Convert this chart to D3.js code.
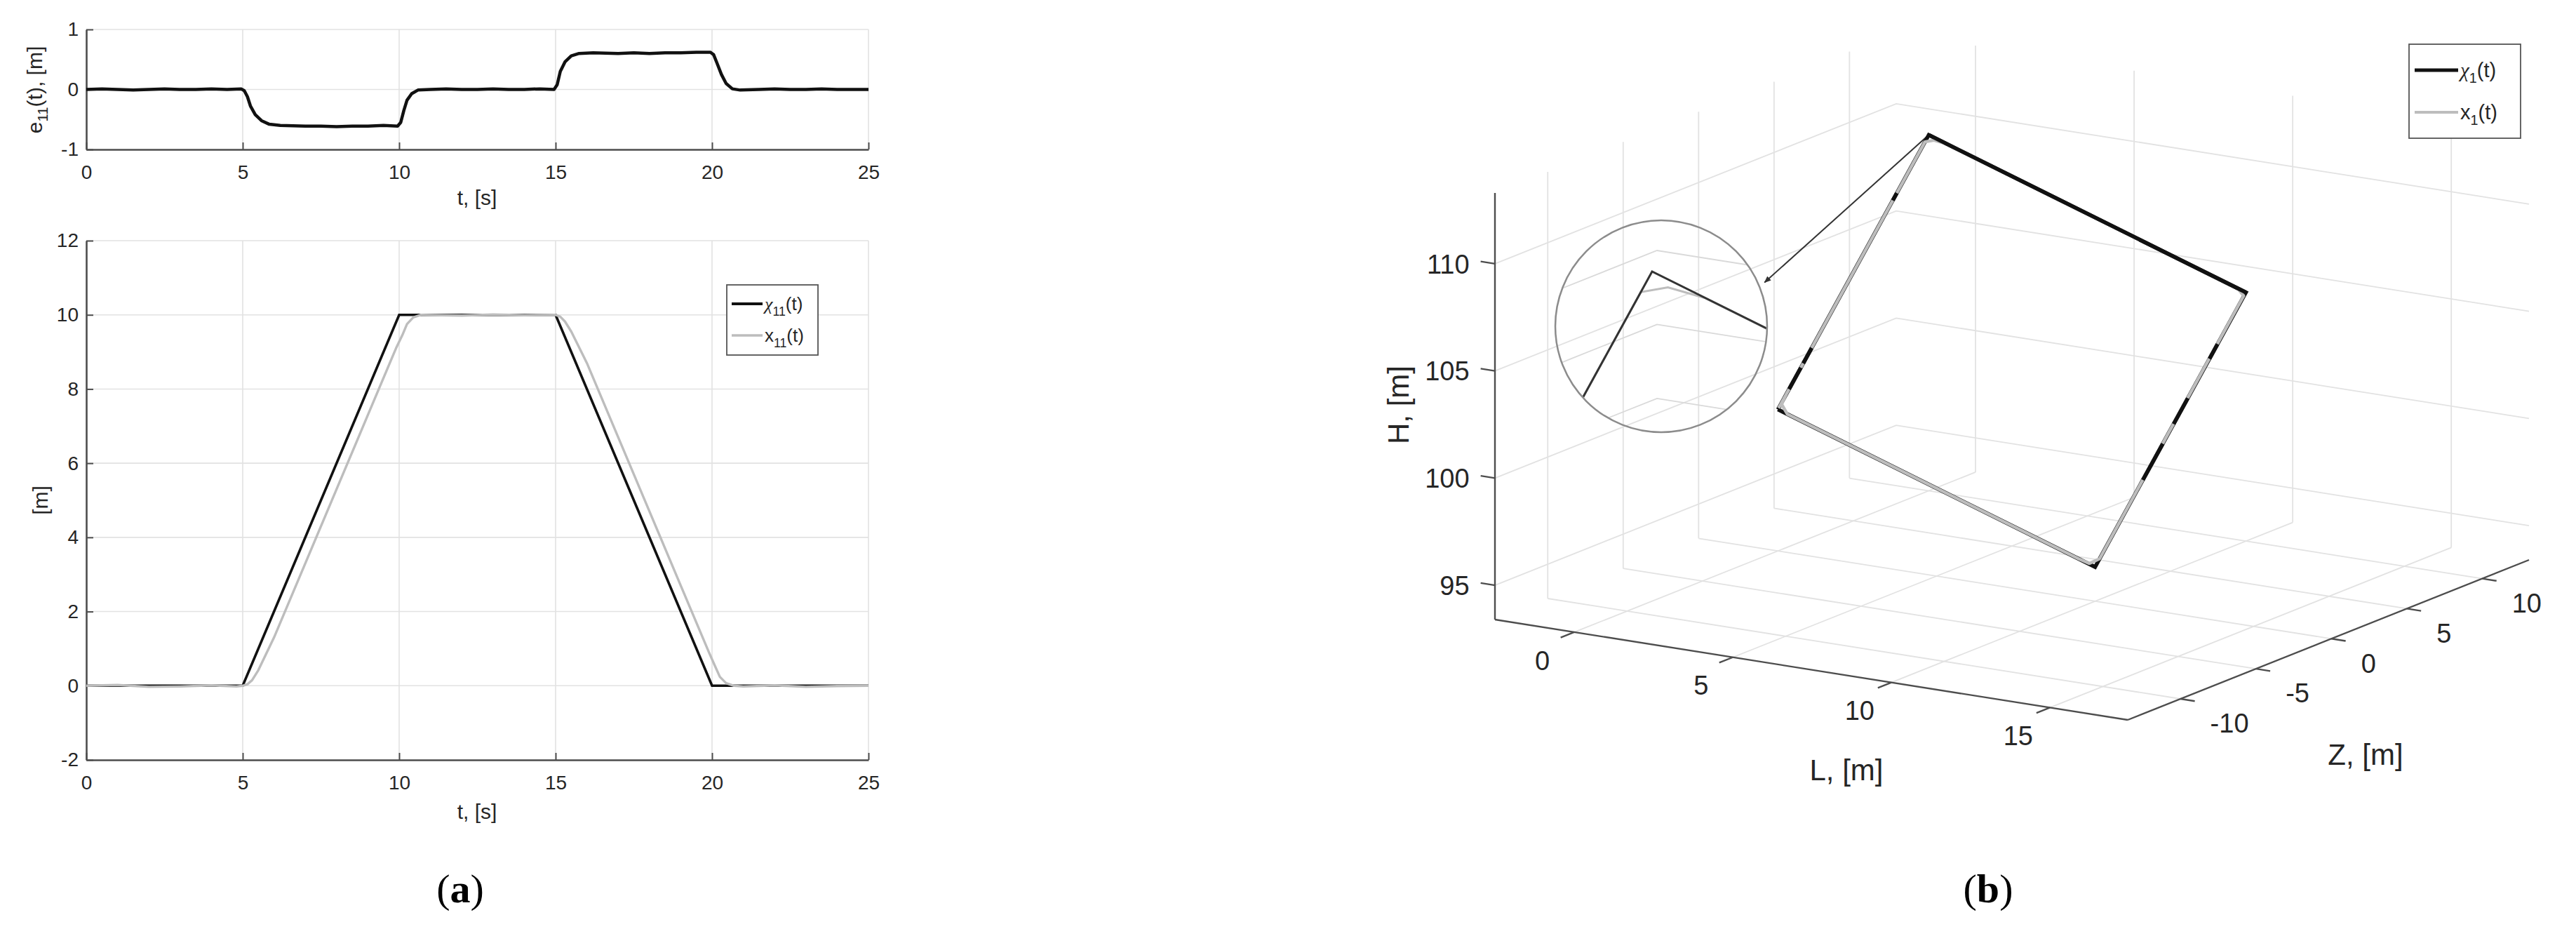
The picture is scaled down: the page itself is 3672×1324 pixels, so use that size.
<!DOCTYPE html>
<html>
<head>
<meta charset="utf-8">
<script src="https://cdn.jsdelivr.net/npm/d3@7/dist/d3.min.js"></script>
<style>
    body { margin: 0; background: #fff; }
    svg { display: block; }
</style>
</head>
<body>
<svg id="figure" width="3672" height="1324"></svg>
<script>
// ---------- panel (a) data ----------
const timeTicks = [0, 5, 10, 15, 20, 25]
const errorTicks = [-1, 0, 1]
const posTicks = [-2, 0, 2, 4, 6, 8, 10, 12]

// e11(t), tracking error
const e11 = [
    [0, 0.00], [0.5, 0.01], [1, 0.00], [1.5, -0.01], [2, 0.00], [2.5, 0.01], [3, 0.00], [3.5, 0.00], [4, 0.01], [4.5, 0.00], [4.95, 0.01],
    [5.05, -0.02], [5.15, -0.12], [5.25, -0.28], [5.4, -0.42], [5.6, -0.52], [5.85, -0.58], [6.2, -0.60], [7, -0.61], [7.5, -0.61],
    [8, -0.62], [8.5, -0.61], [9, -0.61], [9.5, -0.60], [9.95, -0.61],
    [10.05, -0.55], [10.15, -0.35], [10.25, -0.18], [10.4, -0.07], [10.6, -0.01], [11, 0.00], [11.5, 0.01], [12, 0.00], [12.5, 0.00],
    [13, 0.01], [13.5, 0.00], [14, 0.00], [14.5, 0.01], [14.95, 0.00],
    [15.05, 0.08], [15.15, 0.30], [15.3, 0.46], [15.5, 0.56], [15.75, 0.60], [16.2, 0.61], [17, 0.60], [17.5, 0.61], [18, 0.60],
    [18.5, 0.61], [19, 0.61], [19.5, 0.62], [19.95, 0.62],
    [20.05, 0.58], [20.15, 0.45], [20.3, 0.25], [20.45, 0.10], [20.65, 0.01], [20.9, -0.01], [21.5, 0.00], [22, 0.01], [22.5, 0.00],
    [23, 0.00], [23.5, 0.01], [24, 0.00], [24.5, 0.00], [25, 0.00]
]

// chi11(t), reference
const chi11 = [[0, 0], [5, 0], [10, 10], [15, 10], [20, 0], [25, 0]]

// x11(t), actual
const x11 = [
    [0, 0], [1, 0.02], [2, -0.03], [3, -0.02], [4, 0.01], [4.8, -0.02], [5, 0], [5.15, 0.04], [5.3, 0.15], [5.5, 0.42],
    [6, 1.3], [7, 3.3], [8, 5.3], [9, 7.3], [9.9, 9.1], [10.1, 9.45], [10.25, 9.75], [10.45, 9.93], [10.7, 10],
    [12, 9.98], [13, 10.01], [14, 9.99], [15, 10], [15.15, 9.95], [15.3, 9.82], [15.5, 9.55], [16, 8.7], [17, 6.7],
    [18, 4.7], [19, 2.7], [19.9, 0.9], [20.1, 0.52], [20.25, 0.24], [20.45, 0.07], [20.7, 0], [21, -0.02], [22, 0.01],
    [23, -0.03], [24, -0.01], [25, 0]
]

// ---------- panel (b) data ----------
const lTicks = [0, 5, 10, 15]
const zTicks = [-10, -5, 0, 5, 10]
const hTicks = [95, 100, 105, 110]
const lLimits = [-2.5, 17.45]
const zLimits = [-13.5, 13.1]
const hLimits = [93.4, 113.3]

// chi1(t), reference [L, Z, H]
const chi1 = [[0, 0, 100], [0, 10, 110], [10, 10, 105], [10, 0, 95], [0, 0, 100]]

// x1(t), actual [L, Z, H]
const x1 = [
    [0, 0.05, 100.05], [0, 9.75, 109.75], [0.2, 9.93, 109.82], [0.55, 10, 109.72],
    [9.75, 10, 105.12], [10, 9.85, 104.88], [10, 0.3, 95.3], [9.8, 0.05, 95.1], [9.5, 0, 95.25],
    [0.3, 0, 99.85], [0.02, 0.2, 100.2], [0, 0.6, 100.6]
]

const font = "'Liberation Sans', Arial, sans-serif"
const serif = "'Liberation Serif', 'Times New Roman', serif"
const gridColor = '#e2e2e2'
const axisColor = '#4d4d4d'
const textColor = '#262626'
const grayLine = '#bdbdbd'

const svg = d3.select('#figure')
const defs = svg.append('defs')

// ================= panel (a) =================
const tx = d3.scaleLinear().domain([0, 25]).range([123, 1238])
const ey = d3.scaleLinear().domain([-1, 1]).range([213, 42])
const py = d3.scaleLinear().domain([-2, 12]).range([1083, 343])

function drawFrame(x, y, yTicks) {
    const [xa, xb] = x.range()
    const [yb, yt] = y.range()
    const g = svg.append('g')

    // grid
    g.append('g').selectAll('line')
        .data(timeTicks.slice(1))
        .join('line')
        .attr('x1', d => x(d)).attr('x2', d => x(d))
        .attr('y1', yb).attr('y2', yt)
        .attr('stroke', gridColor)
        .attr('stroke-width', 1.6)
    g.append('g').selectAll('line')
        .data(yTicks.slice(1))
        .join('line')
        .attr('x1', xa).attr('x2', xb)
        .attr('y1', d => y(d)).attr('y2', d => y(d))
        .attr('stroke', gridColor)
        .attr('stroke-width', 1.6)

    g.append('g')
        .attr('transform', `translate(${xa},0)`)
        .call(d3.axisLeft(y).tickValues(yTicks).tickFormat(d => String(d)).tickSize(-10).tickSizeOuter(0).tickPadding(11))
        .call(a => a.select('.domain').attr('stroke', axisColor).attr('stroke-width', 2.6))
        .call(a => a.selectAll('.tick line').attr('stroke', axisColor).attr('stroke-width', 2))
        .call(a => a.selectAll('.tick text').attr('fill', textColor).style('font-size', '28px').style('font-family', font))

    g.append('g')
        .attr('transform', `translate(0,${yb})`)
        .call(d3.axisBottom(x).tickValues(timeTicks).tickFormat(d => String(d)).tickSize(-10).tickSizeOuter(0).tickPadding(22))
        .call(a => a.select('.domain').attr('stroke', axisColor).attr('stroke-width', 2.6))
        .call(a => a.selectAll('.tick line').attr('stroke', axisColor).attr('stroke-width', 2))
        .call(a => a.selectAll('.tick text').attr('fill', textColor).style('font-size', '28px').style('font-family', font))
    return g
}

function subText(sel, parts) {
    // parts: [text, kind] kind: 'n' normal, 's' subscript, 'i' italic serif
    let shift = 0
    parts.forEach(([txt, kind]) => {
        const t = sel.append('tspan').text(txt)
        if (kind === 's') {
            t.attr('font-size', '0.68em').attr('dy', 8 - shift)
            shift = 8
        } else {
            t.attr('dy', -shift)
            shift = 0
        }
        if (kind === 'i') t.attr('font-family', serif).attr('font-style', 'italic')
    })
}

// top subplot
drawFrame(tx, ey, errorTicks)
svg.append('path')
    .datum(e11)
    .attr('d', d3.line().x(d => tx(d[0])).y(d => ey(d[1])))
    .attr('fill', 'none')
    .attr('stroke', '#111')
    .attr('stroke-width', 4.5)
    .attr('stroke-linejoin', 'round')

svg.append('text')
    .attr('x', 680).attr('y', 292)
    .attr('text-anchor', 'middle')
    .attr('fill', textColor)
    .style('font-family', font).style('font-size', '30px')
    .text('t, [s]')

const eLabel = svg.append('text')
    .attr('transform', 'translate(60,128) rotate(-90)')
    .attr('text-anchor', 'middle')
    .attr('fill', textColor)
    .style('font-family', font).style('font-size', '30px')
subText(eLabel, [['e', 'n'], ['11', 's'], ['(t), [m]', 'n']])

// bottom subplot
drawFrame(tx, py, posTicks)
svg.append('path')
    .datum(chi11)
    .attr('d', d3.line().x(d => tx(d[0])).y(d => py(d[1])))
    .attr('fill', 'none')
    .attr('stroke', '#111')
    .attr('stroke-width', 3.6)
svg.append('path')
    .datum(x11)
    .attr('d', d3.line().x(d => tx(d[0])).y(d => py(d[1])))
    .attr('fill', 'none')
    .attr('stroke', grayLine)
    .attr('stroke-width', 3.4)
    .attr('stroke-linejoin', 'round')

svg.append('text')
    .attr('x', 680).attr('y', 1167)
    .attr('text-anchor', 'middle')
    .attr('fill', textColor)
    .style('font-family', font).style('font-size', '30px')
    .text('t, [s]')

svg.append('text')
    .attr('transform', 'translate(68,713) rotate(-90)')
    .attr('text-anchor', 'middle')
    .attr('fill', textColor)
    .style('font-family', font).style('font-size', '30px')
    .text('[m]')

// legend (a)
const legA = svg.append('g').attr('transform', 'translate(1036,406)')
legA.append('rect')
    .attr('width', 130).attr('height', 100)
    .attr('fill', '#fff')
    .attr('stroke', '#555')
    .attr('stroke-width', 1.8)
const legAItems = [
    { color: '#111', width: 4, parts: [['\u03C7', 'i'], ['11', 's'], ['(t)', 'n']] },
    { color: grayLine, width: 3.4, parts: [['x', 'n'], ['11', 's'], ['(t)', 'n']] }
]
legAItems.forEach((it, i) => {
    const yy = 27 + i * 45
    legA.append('line')
        .attr('x1', 7).attr('x2', 51).attr('y1', yy).attr('y2', yy)
        .attr('stroke', it.color).attr('stroke-width', it.width)
    const t = legA.append('text')
        .attr('x', 54).attr('y', yy + 9)
        .attr('fill', textColor)
        .style('font-family', font).style('font-size', '26px')
    subText(t, it.parts)
})

// ================= panel (b) =================
const origin3d = [2131, 883]
const lVec = [902, 143], zVec = [572, -228], hVec = [0, -608]
const lFrac = d3.scaleLinear().domain(lLimits).range([0, 1])
const zFrac = d3.scaleLinear().domain(zLimits).range([0, 1])
const hFrac = d3.scaleLinear().domain(hLimits).range([0, 1])

function project(p) {
    const a = lFrac(p[0]), b = zFrac(p[1]), c = hFrac(p[2])
    return [
        origin3d[0] + a * lVec[0] + b * zVec[0] + c * hVec[0],
        origin3d[1] + a * lVec[1] + b * zVec[1] + c * hVec[1]
    ]
}
const line3d = d3.line().x(d => project(d)[0]).y(d => project(d)[1])

const [lMin, lMax] = lLimits
const [zMin, zMax] = zLimits
const [hMin, hMax] = hLimits

// grid segments on floor and two back walls
const gridSegs = []
lTicks.forEach(l => {
    gridSegs.push([[l, zMin, hMin], [l, zMax, hMin]])
    gridSegs.push([[l, zMax, hMin], [l, zMax, hMax]])
})
zTicks.forEach(z => {
    gridSegs.push([[lMin, z, hMin], [lMax, z, hMin]])
    gridSegs.push([[lMin, z, hMin], [lMin, z, hMax]])
})
hTicks.forEach(h => {
    gridSegs.push([[lMin, zMin, h], [lMin, zMax, h], [lMax, zMax, h]])
})

const gB = svg.append('g')
gB.append('g').selectAll('path')
    .data(gridSegs)
    .join('path')
    .attr('d', line3d)
    .attr('fill', 'none')
    .attr('stroke', gridColor)
    .attr('stroke-width', 1.8)

// axes
const axisSegs = [
    [[lMin, zMin, hMin], [lMin, zMin, hMax]],
    [[lMin, zMin, hMin], [lMax, zMin, hMin]],
    [[lMax, zMin, hMin], [lMax, zMax, hMin]]
]
hTicks.forEach(h => axisSegs.push([[lMin, zMin, h], [lMin - 0.45, zMin, h]]))
lTicks.forEach(l => axisSegs.push([[l, zMin, hMin], [l, zMin - 0.9, hMin]]))
zTicks.forEach(z => axisSegs.push([[lMax, z, hMin], [lMax + 0.45, z, hMin]]))

gB.append('g').selectAll('path')
    .data(axisSegs)
    .join('path')
    .attr('d', line3d)
    .attr('fill', 'none')
    .attr('stroke', axisColor)
    .attr('stroke-width', 2.4)

const tickStyle = s => s.attr('fill', textColor).style('font-family', font).style('font-size', '38px')

gB.append('g').selectAll('text')
    .data(hTicks)
    .join('text')
    .attr('x', d => project([lMin - 0.45, zMin, d])[0] - 16)
    .attr('y', d => project([lMin - 0.45, zMin, d])[1] + 4)
    .attr('text-anchor', 'end')
    .attr('dominant-baseline', 'central')
    .call(tickStyle)
    .text(d => String(d))

gB.append('g').selectAll('text')
    .data(lTicks)
    .join('text')
    .attr('x', d => project([d, zMin - 0.9, hMin])[0] - 26)
    .attr('y', d => project([d, zMin - 0.9, hMin])[1] + 33)
    .attr('text-anchor', 'middle')
    .attr('dominant-baseline', 'central')
    .call(tickStyle)
    .text(d => String(d))

gB.append('g').selectAll('text')
    .data(zTicks)
    .join('text')
    .attr('x', d => project([lMax + 0.45, d, hMin])[0] + 22)
    .attr('y', d => project([lMax + 0.45, d, hMin])[1] + 32)
    .attr('text-anchor', 'start')
    .attr('dominant-baseline', 'central')
    .call(tickStyle)
    .text(d => String(d))

const titleStyle = s => s.attr('fill', textColor).style('font-family', font).style('font-size', '42px').attr('text-anchor', 'middle')
gB.append('text').attr('x', 2632).attr('y', 1112).call(titleStyle).text('L, [m]')
gB.append('text').attr('x', 3372).attr('y', 1090).call(titleStyle).text('Z, [m]')
gB.append('text').attr('transform', 'translate(2008,577) rotate(-90)').call(titleStyle).text('H, [m]')

// magnifier inset around the top corner
const insetCenter = [2368, 465], insetR = 151
const insetAnchor = [2355, 387], insetZoom = 3
const gridAnchor = [2362, 357], gridZoom = 0.69

defs.append('clipPath').attr('id', 'insetClip')
    .append('circle')
    .attr('cx', insetCenter[0]).attr('cy', insetCenter[1]).attr('r', insetR - 1)

function insetLine(anchor, zoom, ref) {
    const r = project(ref)
    return d3.line()
        .x(d => anchor[0] + zoom * (project(d)[0] - r[0]))
        .y(d => anchor[1] + zoom * (project(d)[1] - r[1]))
}

const gInset = gB.append('g').attr('clip-path', 'url(#insetClip)')
const insetGrid = insetLine(gridAnchor, gridZoom, [lMin, zMax, 110])
gInset.append('g').selectAll('path')
    .data(hTicks.map(h => [[lMin, zMin, h], [lMin, zMax, h], [lMax, zMax, h]]))
    .join('path')
    .attr('d', insetGrid)
    .attr('fill', 'none')
    .attr('stroke', '#d9d9d9')
    .attr('stroke-width', 1.8)
const insetPath = insetLine(insetAnchor, insetZoom, chi1[1])
gInset.append('path')
    .datum(x1)
    .attr('d', insetPath)
    .attr('fill', 'none')
    .attr('stroke', grayLine)
    .attr('stroke-width', 3)
gInset.append('path')
    .datum(chi1)
    .attr('d', insetPath)
    .attr('fill', 'none')
    .attr('stroke', '#333')
    .attr('stroke-width', 3)

gB.append('circle')
    .attr('cx', insetCenter[0]).attr('cy', insetCenter[1]).attr('r', insetR)
    .attr('fill', 'none')
    .attr('stroke', '#8c8c8c')
    .attr('stroke-width', 2.5)

defs.append('marker')
    .attr('id', 'arrowHead')
    .attr('viewBox', '0 0 10 10')
    .attr('refX', 9).attr('refY', 5)
    .attr('markerWidth', 5).attr('markerHeight', 5)
    .attr('orient', 'auto')
    .append('path')
    .attr('d', 'M0,1L10,5L0,9Z')
    .attr('fill', '#333')

const cornerA = project(chi1[1])
const tipAngle = -23 * Math.PI / 180
gB.append('line')
    .attr('x1', cornerA[0]).attr('y1', cornerA[1])
    .attr('x2', insetCenter[0] + 160 * Math.cos(tipAngle))
    .attr('y2', insetCenter[1] + 160 * Math.sin(tipAngle))
    .attr('stroke', '#333')
    .attr('stroke-width', 2)
    .attr('marker-end', 'url(#arrowHead)')

// trajectories
gB.append('path')
    .datum(chi1)
    .attr('d', line3d)
    .attr('fill', 'none')
    .attr('stroke', '#111')
    .attr('stroke-width', 5.5)
    .attr('stroke-linejoin', 'miter')
gB.append('path')
    .datum(x1)
    .attr('d', line3d)
    .attr('fill', 'none')
    .attr('stroke', grayLine)
    .attr('stroke-width', 4.5)
    .attr('stroke-linejoin', 'round')

// pieces of the reference line that show through
const showThrough = [
    { seg: chi1.slice(1, 3), dash: null },
    { seg: chi1.slice(2, 4), dash: '0 84 24 64 42 32 59 400' },
    { seg: chi1.slice(0, 2), dash: '0 33 35 7 25 240 12 200' }
]
showThrough.forEach(s => {
    gB.append('path')
        .datum(s.seg)
        .attr('d', line3d)
        .attr('fill', 'none')
        .attr('stroke', '#111')
        .attr('stroke-width', 5.5)
        .attr('stroke-dasharray', s.dash)
})

// legend (b)
const legB = svg.append('g').attr('transform', 'translate(3434,63)')
legB.append('rect')
    .attr('width', 159).attr('height', 134)
    .attr('fill', '#fff')
    .attr('stroke', '#555')
    .attr('stroke-width', 1.8)
const legBItems = [
    { color: '#111', width: 5, parts: [['\u03C7', 'i'], ['1', 's'], ['(t)', 'n']] },
    { color: grayLine, width: 4, parts: [['x', 'n'], ['1', 's'], ['(t)', 'n']] }
]
legBItems.forEach((it, i) => {
    const yy = 37 + i * 60
    legB.append('line')
        .attr('x1', 8).attr('x2', 70).attr('y1', yy).attr('y2', yy)
        .attr('stroke', it.color).attr('stroke-width', it.width)
    const t = legB.append('text')
        .attr('x', 73).attr('y', yy + 10)
        .attr('fill', textColor)
        .style('font-family', font).style('font-size', '29px')
    subText(t, it.parts)
})

// captions
const captions = [['a', 656], ['b', 2834]]
captions.forEach(([letter, cx]) => {
    const t = svg.append('text')
        .attr('x', cx).attr('y', 1286)
        .attr('text-anchor', 'middle')
        .attr('fill', '#000')
        .style('font-family', serif).style('font-size', '58px')
    t.append('tspan').text('(')
    t.append('tspan').attr('font-weight', 'bold').text(letter)
    t.append('tspan').text(')')
})
</script>
</body>
</html>
